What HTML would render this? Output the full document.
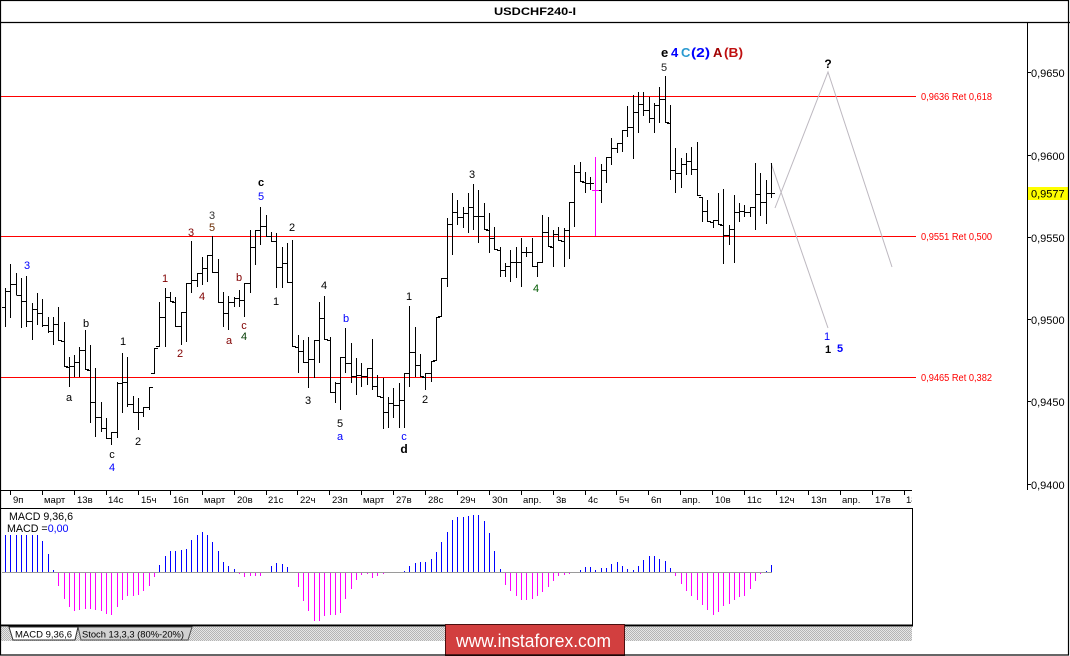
<!DOCTYPE html>
<html>
<head>
<meta charset="utf-8">
<style>
html,body{margin:0;padding:0;background:#fff;overflow:hidden;}
svg{display:block;}
text{font-family:"Liberation Sans",sans-serif;}
</style>
</head>
<body>
<svg width="1070" height="656" viewBox="0 0 1070 656" xmlns="http://www.w3.org/2000/svg">
<defs>
<pattern id="hatch" width="2" height="2" patternUnits="userSpaceOnUse">
<rect width="2" height="2" fill="#e6e6e6"/>
<rect width="1" height="1" fill="#b4b4b4"/>
<rect x="1" y="1" width="1" height="1" fill="#b4b4b4"/>
</pattern>
<clipPath id="tclip"><rect x="0" y="490" width="912" height="18"/></clipPath>
</defs>
<rect x="0" y="0" width="1070" height="656" fill="#fff"/>

<!-- title -->
<text x="535" y="15" font-size="11" font-weight="bold" text-anchor="middle" textLength="82" lengthAdjust="spacingAndGlyphs">USDCHF240-I</text>
<line x1="0" y1="22.5" x2="1070" y2="22.5" stroke="#000" stroke-width="1.2"/>

<!-- right axis -->
<g shape-rendering="crispEdges" stroke="#000" stroke-width="1">
<line x1="1027.5" y1="22" x2="1027.5" y2="490"/>
<line x1="1027" y1="72.5" x2="1031" y2="72.5"/>
<line x1="1027" y1="155.5" x2="1031" y2="155.5"/>
<line x1="1027" y1="237.5" x2="1031" y2="237.5"/>
<line x1="1027" y1="319.5" x2="1031" y2="319.5"/>
<line x1="1027" y1="401.5" x2="1031" y2="401.5"/>
<line x1="1027" y1="484.5" x2="1031" y2="484.5"/>
</g>
<g font-size="11">
<text x="1031" y="77">0,9650</text>
<text x="1031" y="160">0,9600</text>
<text x="1031" y="242">0,9550</text>
<text x="1031" y="324">0,9500</text>
<text x="1031" y="406">0,9450</text>
<text x="1031" y="489">0,9400</text>
</g>
<rect x="1028" y="187" width="41" height="13" fill="#ffff00"/>
<text x="1031" y="197.5" font-size="11">0,9577</text>

<!-- fib lines -->
<g stroke="#ff0000" stroke-width="1" shape-rendering="crispEdges">
<line x1="1" y1="96.5" x2="916" y2="96.5"/>
<line x1="1" y1="236.5" x2="916" y2="236.5"/>
<line x1="1" y1="377.5" x2="916" y2="377.5"/>
</g>
<g font-size="10" fill="#ff0000">
<text x="921" y="100" textLength="71" lengthAdjust="spacingAndGlyphs">0,9636 Ret 0,618</text>
<text x="921" y="240" textLength="71" lengthAdjust="spacingAndGlyphs">0,9551 Ret 0,500</text>
<text x="921" y="381" textLength="71" lengthAdjust="spacingAndGlyphs">0,9465 Ret 0,382</text>
</g>

<!-- projection lines -->
<g stroke="#bdb8c0" stroke-width="1" fill="none">
<polyline points="771,163 828,328"/>
<polyline points="775,208 828,72 892,267"/>
</g>

<!-- price bars -->
<path fill="none" stroke="#000" stroke-width="1" shape-rendering="crispEdges" d="
M5.5 288V327M2 307.5h3.5M5.5 291.5h3.5
M10.5 264V318M7 291.5h3.5M10.5 284.5h3.5
M16.5 273V295M13 284.5h3.5M16.5 295.5h3.5
M21.5 278V328M18 295.5h3.5M21.5 301.5h3.5
M26.5 276V327M23 301.5h3.5M26.5 321.5h3.5
M32.5 303V340M29 321.5h3.5M32.5 309.5h3.5
M37.5 293V325M34 309.5h3.5M37.5 313.5h3.5
M42.5 299V327M39 313.5h3.5M42.5 325.5h3.5
M48.5 317V333M45 325.5h3.5M48.5 331.5h3.5
M53.5 317V345M50 331.5h3.5M53.5 324.5h3.5
M58.5 307V341M55 324.5h3.5M58.5 340.5h3.5
M64.5 322V367M61 341.5h3.5M64.5 366.5h3.5
M69.5 357V387M66 367.5h3.5M69.5 366.5h3.5
M74.5 355V377M71 366.5h3.5M74.5 362.5h3.5
M79.5 347V377M76 362.5h3.5M79.5 350.5h3.5
M85.5 330V370M82 350.5h3.5M85.5 369.5h3.5
M90.5 345V423M87 370.5h3.5M90.5 402.5h3.5
M95.5 368V437M92 402.5h3.5M95.5 417.5h3.5
M101.5 402V432M98 417.5h3.5M101.5 428.5h3.5
M106.5 418V439M103 428.5h3.5M106.5 438.5h3.5
M111.5 432V445M108 438.5h3.5M111.5 432.5h3.5
M117.5 382V438M114 432.5h3.5M117.5 383.5h3.5
M122.5 353V413M119 383.5h3.5M122.5 382.5h3.5
M127.5 357V407M124 382.5h3.5M127.5 404.5h3.5
M133.5 396V413M130 404.5h3.5M133.5 412.5h3.5
M138.5 398V430M135 412.5h3.5M138.5 412.5h3.5
M143.5 407V417M140 412.5h3.5M143.5 407.5h3.5
M149.5 387V410M146 407.5h3.5M149.5 387.5h3.5
M154.5 348V374M151 373.5h3.5M154.5 348.5h3.5
M159.5 302V347M156 346.5h3.5M159.5 317.5h3.5
M165.5 288V347M162 317.5h3.5M165.5 297.5h3.5
M170.5 292V302M167 297.5h3.5M170.5 301.5h3.5
M175.5 297V327M172 302.5h3.5M175.5 326.5h3.5
M181.5 312V345M178 326.5h3.5M181.5 312.5h3.5
M186.5 283V342M183 312.5h3.5M186.5 283.5h3.5
M191.5 241V293M188 283.5h3.5M191.5 280.5h3.5
M197.5 273V287M194 280.5h3.5M197.5 273.5h3.5
M202.5 257V285M199 273.5h3.5M202.5 268.5h3.5
M207.5 255V282M204 268.5h3.5M207.5 255.5h3.5
M212.5 236V273M209 255.5h3.5M212.5 272.5h3.5
M218.5 259V303M215 272.5h3.5M218.5 302.5h3.5
M223.5 292V327M220 302.5h3.5M223.5 313.5h3.5
M228.5 296V330M225 313.5h3.5M228.5 302.5h3.5
M234.5 297V307M231 302.5h3.5M234.5 298.5h3.5
M239.5 290V307M236 298.5h3.5M239.5 300.5h3.5
M244.5 283V317M241 300.5h3.5M244.5 283.5h3.5
M250.5 230V293M247 283.5h3.5M250.5 247.5h3.5
M255.5 230V265M252 247.5h3.5M255.5 230.5h3.5
M260.5 207V245M257 230.5h3.5M260.5 226.5h3.5
M266.5 215V237M263 226.5h3.5M266.5 236.5h3.5
M271.5 232V242M268 236.5h3.5M271.5 241.5h3.5
M276.5 233V288M273 241.5h3.5M276.5 267.5h3.5
M282.5 247V288M279 267.5h3.5M282.5 263.5h3.5
M287.5 243V283M284 263.5h3.5M287.5 282.5h3.5
M292.5 240V347M289 282.5h3.5M292.5 346.5h3.5
M298.5 335V373M295 347.5h3.5M298.5 351.5h3.5
M303.5 340V363M300 351.5h3.5M303.5 362.5h3.5
M308.5 337V388M305 362.5h3.5M308.5 359.5h3.5
M314.5 340V378M311 359.5h3.5M314.5 340.5h3.5
M319.5 302V363M316 340.5h3.5M319.5 318.5h3.5
M324.5 296V340M321 318.5h3.5M324.5 339.5h3.5
M330.5 337V393M327 340.5h3.5M330.5 392.5h3.5
M335.5 382V403M332 392.5h3.5M335.5 383.5h3.5
M340.5 357V410M337 383.5h3.5M340.5 357.5h3.5
M345.5 328V373M342 357.5h3.5M345.5 363.5h3.5
M351.5 343V383M348 363.5h3.5M351.5 376.5h3.5
M356.5 358V395M353 376.5h3.5M356.5 375.5h3.5
M361.5 363V387M358 375.5h3.5M361.5 376.5h3.5
M367.5 368V385M364 376.5h3.5M367.5 368.5h3.5
M372.5 339V390M369 368.5h3.5M372.5 386.5h3.5
M377.5 375V397M374 386.5h3.5M377.5 396.5h3.5
M383.5 378V429M380 397.5h3.5M383.5 412.5h3.5
M388.5 397V428M385 412.5h3.5M388.5 403.5h3.5
M393.5 388V418M390 403.5h3.5M393.5 405.5h3.5
M399.5 383V428M396 405.5h3.5M399.5 400.5h3.5
M404.5 373V428M401 400.5h3.5M404.5 373.5h3.5
M409.5 306V387M406 373.5h3.5M409.5 352.5h3.5
M415.5 327V377M412 352.5h3.5M415.5 365.5h3.5
M420.5 354V377M417 365.5h3.5M420.5 376.5h3.5
M425.5 373V390M422 377.5h3.5M425.5 373.5h3.5
M431.5 361V382M428 373.5h3.5M431.5 361.5h3.5
M436.5 317V361M433 360.5h3.5M436.5 317.5h3.5
M441.5 278V317M438 316.5h3.5M441.5 278.5h3.5
M447.5 218V287M444 278.5h3.5M447.5 224.5h3.5
M452.5 193V255M449 224.5h3.5M452.5 212.5h3.5
M457.5 200V225M454 212.5h3.5M457.5 217.5h3.5
M463.5 207V228M460 217.5h3.5M463.5 213.5h3.5
M468.5 193V233M465 213.5h3.5M468.5 207.5h3.5
M473.5 184V230M470 207.5h3.5M473.5 216.5h3.5
M478.5 190V243M475 216.5h3.5M478.5 216.5h3.5
M484.5 203V230M481 216.5h3.5M484.5 229.5h3.5
M489.5 213V253M486 230.5h3.5M489.5 238.5h3.5
M494.5 227V250M491 238.5h3.5M494.5 249.5h3.5
M500.5 247V277M497 250.5h3.5M500.5 270.5h3.5
M505.5 263V277M502 270.5h3.5M505.5 266.5h3.5
M510.5 250V282M507 266.5h3.5M510.5 262.5h3.5
M516.5 247V278M513 262.5h3.5M516.5 262.5h3.5
M521.5 238V287M518 262.5h3.5M521.5 252.5h3.5
M526.5 247V257M523 252.5h3.5M526.5 252.5h3.5
M532.5 238V267M529 252.5h3.5M532.5 266.5h3.5
M537.5 262V277M534 266.5h3.5M537.5 262.5h3.5
M542.5 215V263M539 262.5h3.5M542.5 232.5h3.5
M548.5 217V247M545 232.5h3.5M548.5 246.5h3.5
M553.5 230V267M550 247.5h3.5M553.5 234.5h3.5
M558.5 227V241M555 234.5h3.5M558.5 240.5h3.5
M564.5 228V267M561 241.5h3.5M564.5 230.5h3.5
M569.5 202V259M566 230.5h3.5M569.5 202.5h3.5
M574.5 165V227M571 202.5h3.5M574.5 172.5h3.5
M580.5 162V182M577 172.5h3.5M580.5 181.5h3.5
M585.5 172V193M582 182.5h3.5M585.5 183.5h3.5
M590.5 177V190M587 183.5h3.5M590.5 183.5h3.5
M601.5 164V203M598 190.5h3.5M601.5 170.5h3.5
M606.5 157V183M603 170.5h3.5M606.5 157.5h3.5
M611.5 138V165M608 157.5h3.5M611.5 148.5h3.5
M617.5 143V153M614 148.5h3.5M617.5 143.5h3.5
M622.5 130V152M619 143.5h3.5M622.5 130.5h3.5
M627.5 106V137M624 130.5h3.5M627.5 127.5h3.5
M633.5 95V159M630 127.5h3.5M633.5 112.5h3.5
M638.5 92V133M635 112.5h3.5M638.5 104.5h3.5
M643.5 92V116M640 104.5h3.5M643.5 110.5h3.5
M649.5 97V123M646 110.5h3.5M649.5 118.5h3.5
M654.5 103V133M651 118.5h3.5M654.5 105.5h3.5
M659.5 87V123M656 105.5h3.5M659.5 99.5h3.5
M665.5 76V123M662 99.5h3.5M665.5 122.5h3.5
M670.5 105V180M667 123.5h3.5M670.5 170.5h3.5
M675.5 148V193M672 170.5h3.5M675.5 173.5h3.5
M681.5 158V188M678 173.5h3.5M681.5 164.5h3.5
M686.5 153V175M683 164.5h3.5M686.5 161.5h3.5
M691.5 147V175M688 161.5h3.5M691.5 169.5h3.5
M697.5 142V196M694 169.5h3.5M697.5 195.5h3.5
M702.5 197V222M699 197.5h3.5M702.5 211.5h3.5
M707.5 200V222M704 211.5h3.5M707.5 221.5h3.5
M713.5 220V228M710 222.5h3.5M713.5 220.5h3.5
M718.5 193V225M715 220.5h3.5M718.5 224.5h3.5
M723.5 189V264M720 225.5h3.5M723.5 235.5h3.5
M729.5 225V245M726 235.5h3.5M729.5 229.5h3.5
M734.5 195V263M731 229.5h3.5M734.5 212.5h3.5
M739.5 203V222M736 212.5h3.5M739.5 211.5h3.5
M744.5 205V217M741 211.5h3.5M744.5 212.5h3.5
M750.5 207V217M747 212.5h3.5M750.5 207.5h3.5
M755.5 163V230M752 207.5h3.5M755.5 194.5h3.5
M760.5 173V216M757 194.5h3.5M760.5 202.5h3.5
M766.5 180V224M763 202.5h3.5M766.5 193.5h3.5
M771.5 163V198M768 193.5h3.5M771.5 193.5h3.5
"/>
<path fill="none" stroke="#ff00ff" stroke-width="1" shape-rendering="crispEdges" d="M595.5 157V236M592 190.5h3.5M595.5 190.5h3.5"/>

<!-- wave labels -->
<g font-size="11" text-anchor="middle">
<text x="27" y="269" fill="#0000ff">3</text>
<text x="86" y="327" fill="#000">b</text>
<text x="123" y="345" fill="#000">1</text>
<text x="69" y="401" fill="#000">a</text>
<text x="112" y="458" fill="#000">c</text>
<text x="112" y="471" fill="#0000ff">4</text>
<text x="138" y="445" fill="#000">2</text>
<text x="165" y="282" fill="#800000">1</text>
<text x="180" y="357" fill="#800000">2</text>
<text x="191" y="236" fill="#800000">3</text>
<text x="202" y="300" fill="#800000">4</text>
<text x="212" y="219" fill="#333">3</text>
<text x="212" y="231" fill="#6a2a00">5</text>
<text x="239" y="281" fill="#800000">b</text>
<text x="229" y="344" fill="#800000">a</text>
<text x="244" y="329" fill="#800000">c</text>
<text x="244" y="340" fill="#003a00">4</text>
<text x="261" y="186" fill="#000" font-weight="bold">c</text>
<text x="261" y="200" fill="#0000ff">5</text>
<text x="292" y="231" fill="#000">2</text>
<text x="276" y="305" fill="#000">1</text>
<text x="308" y="404" fill="#000">3</text>
<text x="324" y="289" fill="#000">4</text>
<text x="346" y="322" fill="#0000ff">b</text>
<text x="340" y="427" fill="#000">5</text>
<text x="340" y="440" fill="#0000ff">a</text>
<text x="404" y="440" fill="#0000ff">c</text>
<text x="404" y="453" fill="#000" font-weight="bold" font-size="12">d</text>
<text x="409" y="300" fill="#000">1</text>
<text x="425" y="403" fill="#000">2</text>
<text x="472" y="178" fill="#000">3</text>
<text x="536" y="292" fill="#005a00">4</text>
<text x="664" y="71" fill="#222">5</text>
<text x="828" y="68" fill="#000" font-weight="bold" font-size="12">?</text>
<text x="827" y="340" fill="#0000ff">1</text>
<text x="828" y="353" fill="#000" font-weight="bold">1</text>
<text x="840" y="352" fill="#0000ff" font-weight="bold">5</text>
</g>
<g font-size="13" font-weight="bold">
<text x="661" y="57" fill="#000">e</text>
<text x="671" y="57" fill="#0000ff">4</text>
<text x="681" y="57" fill="#2a9ad0">C</text>
<text x="691" y="57" fill="#0000ff" textLength="19" lengthAdjust="spacingAndGlyphs">(2)</text>
<text x="713" y="57" fill="#a00000">A</text>
<text x="724" y="57" fill="#c01010" textLength="19" lengthAdjust="spacingAndGlyphs">(B)</text>
</g>

<!-- time axis -->
<line x1="0" y1="490.5" x2="912" y2="490.5" stroke="#000" stroke-width="1" shape-rendering="crispEdges"/>
<path stroke="#000" stroke-width="1" shape-rendering="crispEdges" d="M10.5 490V495M42.5 490V495M74.5 490V495M106.5 490V495M138.5 490V495M170.5 490V495M202.5 490V495M234.5 490V495M266.5 490V495M297.5 490V495M329.5 490V495M361.5 490V495M393.5 490V495M425.5 490V495M457.5 490V495M489.5 490V495M521.5 490V495M553.5 490V495M585.5 490V495M616.5 490V495M648.5 490V495M680.5 490V495M712.5 490V495M744.5 490V495M776.5 490V495M808.5 490V495M840.5 490V495M872.5 490V495M904.5 490V495"/>
<g font-size="9.5" clip-path="url(#tclip)">
<text x="13" y="503">9п</text>
<text x="44" y="503">март</text>
<text x="77" y="503">13в</text>
<text x="108" y="503">14с</text>
<text x="141" y="503">15ч</text>
<text x="173" y="503">16п</text>
<text x="204" y="503">март</text>
<text x="237" y="503">20в</text>
<text x="268" y="503">21с</text>
<text x="300" y="503">22ч</text>
<text x="332" y="503">23п</text>
<text x="363" y="503">март</text>
<text x="396" y="503">27в</text>
<text x="428" y="503">28с</text>
<text x="460" y="503">29ч</text>
<text x="492" y="503">30п</text>
<text x="523" y="503">апр.</text>
<text x="556" y="503">3в</text>
<text x="588" y="503">4с</text>
<text x="619" y="503">5ч</text>
<text x="651" y="503">6п</text>
<text x="682" y="503">апр.</text>
<text x="715" y="503">10в</text>
<text x="747" y="503">11с</text>
<text x="779" y="503">12ч</text>
<text x="811" y="503">13п</text>
<text x="842" y="503">апр.</text>
<text x="875" y="503">17в</text>
<text x="906" y="503">18в</text>
</g>

<!-- MACD panel -->
<g stroke="#000" shape-rendering="crispEdges">
<line x1="0" y1="508.5" x2="913" y2="508.5" stroke-width="1"/>
<line x1="912.5" y1="508" x2="912.5" y2="626" stroke-width="1"/>
<line x1="0" y1="625.5" x2="913" y2="625.5" stroke-width="2"/>
</g>
<line x1="2" y1="572.5" x2="772" y2="572.5" stroke="#9a9a9a" stroke-width="1" shape-rendering="crispEdges"/>
<path fill="none" stroke="#0000ff" stroke-width="1" shape-rendering="crispEdges" d="
M5.5 572V535M10.5 572V535M16.5 572V535M21.5 572V535M26.5 572V535M32.5 572V535M37.5 572V535M42.5 572V541M48.5 572V554M53.5 572V570
M159.5 572V565M165.5 572V556M170.5 572V551M175.5 572V551M181.5 572V550M186.5 572V549M191.5 572V540M197.5 572V535M202.5 572V532M207.5 572V535M212.5 572V542M218.5 572V551M223.5 572V562M228.5 572V566M234.5 572V569
M271.5 572V566M276.5 572V563M282.5 572V564M287.5 572V567
M404.5 572V571M409.5 572V566M415.5 572V563M420.5 572V562M425.5 572V562M431.5 572V559M436.5 572V552M441.5 572V542M447.5 572V532M452.5 572V520M457.5 572V517M463.5 572V517M468.5 572V516M473.5 572V515M478.5 572V515M484.5 572V521M489.5 572V533M494.5 572V551M500.5 572V569
M580.5 572V570M585.5 572V567M590.5 572V567M595.5 572V570M601.5 572V568M606.5 572V568M611.5 572V564M617.5 572V562M622.5 572V566M627.5 572V569M633.5 572V570M638.5 572V566M643.5 572V560M649.5 572V556M654.5 572V556M659.5 572V559M665.5 572V561M670.5 572V568
M766.5 572V571M771.5 572V565"/>
<path fill="none" stroke="#ff00ff" stroke-width="1" shape-rendering="crispEdges" d="
M58.5 573V586M64.5 573V599M69.5 573V607M74.5 573V611M79.5 573V610M85.5 573V609M90.5 573V609M95.5 573V610M101.5 573V611M106.5 573V614M111.5 573V615M117.5 573V607M122.5 573V600M127.5 573V596M133.5 573V596M138.5 573V595M143.5 573V591M149.5 573V586M154.5 573V577
M239.5 573V574M244.5 573V577M250.5 573V576M255.5 573V576M260.5 573V576
M298.5 573V587M303.5 573V601M308.5 573V611M314.5 573V621M319.5 573V621M324.5 573V616M330.5 573V615M335.5 573V615M340.5 573V613M345.5 573V599M351.5 573V589M356.5 573V580M361.5 573V575M367.5 573V574M372.5 573V578M377.5 573V576M383.5 573V574
M505.5 573V585M510.5 573V591M516.5 573V596M521.5 573V600M526.5 573V600M532.5 573V599M537.5 573V596M542.5 573V592M548.5 573V587M553.5 573V581M558.5 573V576M564.5 573V575M569.5 573V574
M675.5 573V576M681.5 573V584M686.5 573V591M691.5 573V596M697.5 573V600M702.5 573V605M707.5 573V610M713.5 573V615M718.5 573V612M723.5 573V606M729.5 573V604M734.5 573V600M739.5 573V597M744.5 573V596M750.5 573V589M755.5 573V581M760.5 573V574"/>
<text x="9" y="520" font-size="10.7" textLength="64" lengthAdjust="spacingAndGlyphs">MACD 9,36,6</text>
<text x="7" y="532" font-size="10.7">MACD =<tspan fill="#0000ff">0,00</tspan></text>

<!-- tabs strip -->
<rect x="1" y="627" width="911" height="14" fill="url(#hatch)"/>
<polygon points="78,627 192,627 188,640 81,640" fill="#d2d2d2" stroke="#505050" stroke-width="1"/>
<polygon points="9,627 78,627 75,640 13,640" fill="#ffffff" stroke="#303030" stroke-width="1"/>
<text x="15" y="637.5" font-size="9.5" textLength="57" lengthAdjust="spacingAndGlyphs">MACD 9,36,6</text>
<text x="82" y="637.5" font-size="9.5" textLength="102" lengthAdjust="spacingAndGlyphs">Stoch 13,3,3 (80%-20%)</text>

<!-- banner -->
<rect x="445.5" y="624.5" width="179" height="31" fill="#d23f3f" stroke="#4a1010" stroke-width="1"/>
<text x="456" y="647" font-size="18" fill="#ffffff" textLength="155" lengthAdjust="spacingAndGlyphs">www.instaforex.com</text>

<!-- outer border -->
<rect x="0.5" y="0.5" width="1068" height="654.5" fill="none" stroke="#000" stroke-width="1.2"/>
</svg>
</body>
</html>
